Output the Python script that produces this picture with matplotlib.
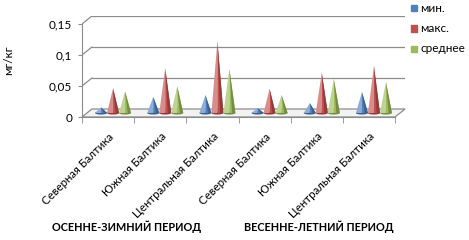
import numpy as np
import matplotlib.pyplot as plt
from matplotlib.patches import Polygon, Ellipse
from matplotlib.colors import to_rgb

plt.rcParams['font.family'] = ['Lato', 'DejaVu Sans']

# ----------------------------
# Data
# ----------------------------
regions = ["Северная Балтика", "Южная Балтика", "Центральная Балтика",
           "Северная Балтика", "Южная Балтика", "Центральная Балтика"]
periods = ["ОСЕННЕ-ЗИМНИЙ ПЕРИОД", "ВЕСЕННЕ-ЛЕТНИЙ ПЕРИОД"]
series_names = ["мин.", "макс.", "среднее"]
val_min = [0.009, 0.026, 0.029, 0.008, 0.016, 0.034]
val_max = [0.040, 0.072, 0.116, 0.039, 0.065, 0.076]
val_avg = [0.035, 0.043, 0.071, 0.029, 0.055, 0.050]
colors = ["#4F81BD", "#C0504D", "#9BBB59"]

# ----------------------------
# Figure / axes
# ----------------------------
fig = plt.figure(figsize=(4.69, 2.40), dpi=100)
W, H = 469, 240
ax_left, ax_right, ax_bottom, ax_top = 82, 405, 117, 16
ax = fig.add_axes([ax_left / W, 1 - ax_bottom / H,
                   (ax_right - ax_left) / W, (ax_bottom - ax_top) / H])

n = len(regions)
ddx = 0.19      # depth offset in category units
ddy = 0.0129    # depth offset in value units
ax.set_xlim(-0.5, n - 0.5 + ddx)
ax.set_ylim(0, 0.15 + ddy)

grid_c = "#8C8C8C"
# back wall + side wall gridlines
for v in [0.05, 0.10, 0.15]:
    ax.plot([-0.5 + ddx, n - 0.5 + ddx], [v + ddy, v + ddy], color=grid_c, lw=0.9, zorder=1)
    ax.plot([-0.5, -0.5 + ddx], [v, v + ddy], color=grid_c, lw=0.9, zorder=1)
# floor
floor = Polygon([(-0.5, 0), (n - 0.5, 0), (n - 0.5 + ddx, ddy), (-0.5 + ddx, ddy)],
                closed=True, facecolor="#F2F2F2", edgecolor=grid_c, lw=0.9, zorder=1, clip_on=False)
ax.add_patch(floor)

# cones
offsets = [-0.23, 0.0, 0.23]
half_w = 0.115
for s, vals in enumerate([val_min, val_max, val_avg]):
    base = np.array(to_rgb(colors[s]))
    light = np.clip(base + (1 - base) * 0.35, 0, 1)
    dark = base * 0.75
    for i, v in enumerate(vals):
        cx = i + offsets[s] + ddx / 2
        y0 = ddy / 2
        ax.add_patch(Ellipse((cx, y0), 2 * half_w, 0.005, facecolor=dark, edgecolor="none", zorder=3 + s))
        ax.add_patch(Polygon([(cx - half_w, y0), (cx, v + y0), (cx, y0)], closed=True,
                             facecolor=light, edgecolor="none", zorder=3 + s))
        ax.add_patch(Polygon([(cx, y0), (cx, v + y0), (cx + half_w, y0)], closed=True,
                             facecolor=base, edgecolor="none", zorder=3 + s))
        ax.add_patch(Polygon([(cx + half_w * 0.45, y0), (cx, v + y0), (cx + half_w, y0)], closed=True,
                             facecolor=dark, edgecolor="none", zorder=3 + s))

# spines / ticks
for sp in ["top", "right"]:
    ax.spines[sp].set_visible(False)
ax.spines["left"].set_bounds(0, 0.15)
ax.spines["left"].set_color(grid_c)
ax.spines["bottom"].set_bounds(-0.5, n - 0.5)
ax.spines["bottom"].set_color(grid_c)

ax.set_yticks([0, 0.05, 0.10, 0.15])
ax.set_yticklabels(["0", "0,05", "0,1", "0,15"], fontsize=8.5)
ax.tick_params(axis="y", length=3, color=grid_c, pad=4)

ax.set_xticks(np.arange(n))
ax.set_xticklabels(regions, rotation=45, ha="right", rotation_mode="anchor", fontsize=8.3)
ax.tick_params(axis="x", which="major", length=0, pad=10)
ax.set_xticks(np.arange(n + 1) - 0.5, minor=True)
ax.tick_params(axis="x", which="minor", length=4, color=grid_c)

fig.text(9 / W, 1 - 60 / H, "мг/кг", rotation=90, ha="center", va="center", fontsize=8.5)

# period labels
fig.text(127 / W, 1 - 227 / H, periods[0], ha="center", va="center", fontsize=7.8, fontweight="bold")
fig.text(319 / W, 1 - 227 / H, periods[1], ha="center", va="center", fontsize=7.8, fontweight="bold")

# legend
for s, name in enumerate(series_names):
    yy = 1 - (8 + 20.5 * s) / H
    fig.patches.append(plt.Rectangle((411 / W, yy - 3 / H), 6 / W, 6 / H,
                                     color=colors[s], transform=fig.transFigure, figure=fig))
    fig.text(420 / W, yy, name, ha="left", va="center", fontsize=8.5)

fig.savefig("out.png", dpi=100, facecolor="white")
